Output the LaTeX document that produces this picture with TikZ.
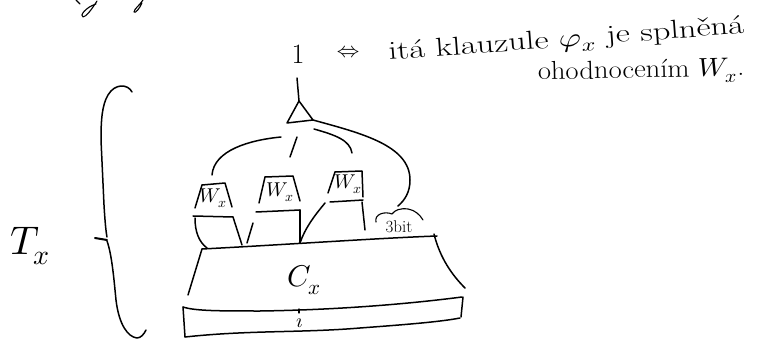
\documentclass[tikz,border=0pt]{standalone}
\usepackage{unicode-math}
\usepackage{graphicx}
\begin{document}
\begin{tikzpicture}[x=1pt,y=-1pt,
  pen/.style={line width=1.5pt,line cap=round,line join=round},
  fine/.style={line width=1.1pt,line cap=round,line join=round},
  lbl/.style={inner sep=0pt,outer sep=0pt}]
\useasboundingbox (0,0) rectangle (763,339);

% descenders of the line above, cut by the page edge
\draw[fine] (76,0) -- (80,4);
\draw[fine] (97,1) .. controls (92,9) and (86,17) .. (83,17) .. controls (79,16) and (86,7) .. (96,4);
\draw[fine] (143,0) .. controls (140,5) and (134,9) .. (134,12) .. controls (135,14) and (140,8) .. (142,3);

% statement about the output
\node[lbl] (one) at (298,54) {\fontsize{28}{32}\selectfont 1};
\node[lbl] (iff) at (348,52) {\fontsize{22}{26}\selectfont$\Leftrightarrow$};
\node[lbl,anchor=base west,rotate=4.3] (claim) at (389,60)
  {\fontsize{26}{30}\selectfont\scalebox{1.33}[1]{itá klauzule $\varphi_x$ je splněná}};
\node[lbl,anchor=base west,rotate=1.2] (claim2) at (538,80)
  {\fontsize{26}{30}\selectfont\scalebox{1.1}[1]{ohodnocením $W_x$.}};

% output gate
\coordinate (top) at (299,101);
\coordinate (gl) at (287,123);
\coordinate (gr) at (313,120);
\coordinate (out) at (297,78);
\draw[pen] (top) -- (gl) -- (gr) -- cycle;
\draw[pen] (out) -- (top);

% Wx boxes
\coordinate (a1) at (202,185); \coordinate (a2) at (225,183);
\coordinate (a3) at (233,217); \coordinate (a4) at (193,216);
\draw[pen] (a1) -- (a2) -- (232,207);
\draw[pen] (a1) -- (195,208);
\draw[pen] (a4) -- (a3);
\node[lbl] (w1) at (213,198) {\fontsize{20}{22}\selectfont$W_x$};

\coordinate (b1) at (265,177); \coordinate (b2) at (293,176);
\coordinate (b3) at (300,210); \coordinate (b4) at (256,212);
\draw[pen] (b1) -- (b2) -- (300,201);
\draw[pen] (b1) -- (259,203);
\draw[pen] (b4) -- (b3);
\node[lbl] (w2) at (280,192) {\fontsize{20}{22}\selectfont$W_x$};

\coordinate (c1) at (335,172); \coordinate (c2) at (362,171);
\coordinate (c3) at (363,200); \coordinate (c4) at (330,202);
\draw[pen] (c1) -- (c2) -- (363,197);
\draw[pen] (c1) -- (328,193);
\draw[pen] (c4) -- (c3);
\node[lbl] (w3) at (348,184) {\fontsize{20}{22}\selectfont$W_x$};

% wires into the gate
\draw[pen] (212,175) .. controls (214,150) and (250,140) .. (281,137);
\draw[pen] (297,137) -- (290,157);
\draw[pen] (314,129) .. controls (335,135) and (350,140) .. (352,153);
\draw[pen] (gr) .. controls (360,133) and (410,145) .. (410,180) .. controls (410,192) and (405,200) .. (398,206);

% wires from the boxes down to Cx
\coordinate (ctl) at (202,249);
\coordinate (ctr) at (437,236);
\draw[pen] (195,218) .. controls (195,232) and (199,242) .. (207,248);
\draw[pen] (a3) -- (242,245);
\draw[pen] (253,223) -- (247,243);
\draw[pen] (b3) -- (300,243);
\draw[pen] (325,203) .. controls (315,215) and (305,228) .. (300,243);
\draw[pen] (362,202) -- (365,230);

% 3 bit input
\draw[fine] (376,222) .. controls (374,214) and (385,211) .. (392,214)
  .. controls (395,210) and (400,208) .. (408,209) .. controls (415,210) and (420,215) .. (423,220);
\node[lbl] (bits) at (399,227) {\fontsize{17}{19}\selectfont 3bit};

% Cx block
\draw[pen] (ctl) .. controls (280,245) and (380,238) .. (ctr);
\draw[pen] (ctl) -- (188,295);
\draw[pen] (434,234) .. controls (440,258) and (452,275) .. (465,288);
\node[lbl] (cx) at (304,280) {\fontsize{30}{34}\selectfont$C_x$};

% input layer below
\draw[pen] (183,307) .. controls (195,311) and (220,311) .. (260,311)
  .. controls (330,310) and (400,305) .. (462,297);
\draw[pen] (183,307) -- (185,337);
\draw[pen] (185,337) .. controls (250,330) and (300,333) .. (360,328)
  .. controls (400,325) and (440,322) .. (460,318);
\draw[pen] (463,297) -- (461,317);
\draw[fine] (299,309) -- (299,313);
\node[lbl] (idx) at (300,323) {\fontsize{20}{22}\selectfont$\imath$};

% brace and its label
\draw[pen] (132,92) .. controls (128,84) and (115,83) .. (108,95)
  .. controls (102,105) and (101,120) .. (101,140) -- (104,205)
  .. controls (105,222) and (106,232) .. (107,237);
\draw[line width=2pt,line cap=round] (95,238) -- (107,240);
\draw[pen] (107,241) .. controls (112,255) and (114,280) .. (116,300)
  .. controls (119,325) and (128,337) .. (137,338) .. controls (141,338) and (144,334) .. (146,330);
\node[lbl] (tx) at (30,246) {\fontsize{40}{44}\selectfont$T_x$};
\end{tikzpicture}
\end{document}
